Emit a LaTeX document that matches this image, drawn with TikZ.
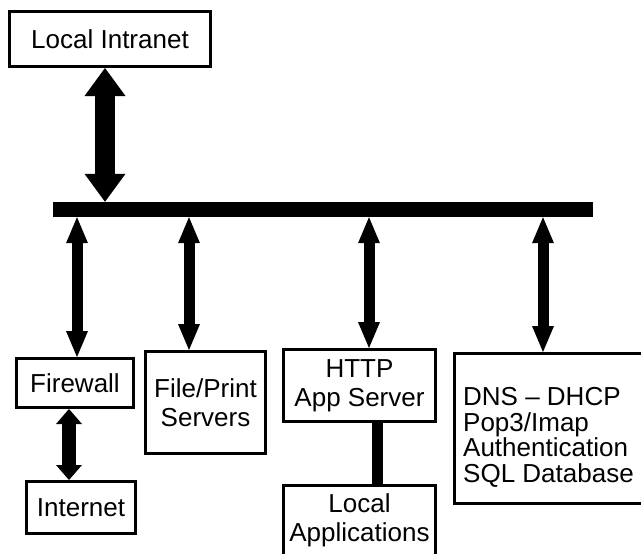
\documentclass[tikz,border=0pt]{standalone}
\usepackage{fontspec}
\setmainfont{Liberation Sans}
\usetikzlibrary{arrows.meta}

\tikzset{
  box/.style={draw=black, line width=3pt, fill=white, inner sep=0pt,
    align=center, font=\fontsize{26}{29}\selectfont},
  plain/.style={inner sep=0pt, align=left, font=\fontsize{26}{25.7}\selectfont},
  bigarrow/.style={line width=20pt,
    {Triangle[width=41pt,length=28pt,line width=0pt]}-{Triangle[width=41pt,length=28pt,line width=0pt]}},
  midarrow/.style={line width=14pt,
    {Triangle[width=26pt,length=15pt,line width=0pt]}-{Triangle[width=26pt,length=15pt,line width=0pt]}},
  linkarrow/.style={line width=11pt,
    {Triangle[width=22pt,length=26pt,line width=0pt]}-{Triangle[width=22pt,length=26pt,line width=0pt]}},
  link/.style={line width=11pt},
}

\begin{document}
\begin{tikzpicture}[x=1pt, y=-1pt]
  \useasboundingbox (0,0) rectangle (641,554);
  \begin{scope}
    \clip (0,0) rectangle (641,554);

    % network backbone
    \node[fill=black, inner sep=0pt, minimum width=540pt, minimum height=15pt] (bus) at (323,209.5) {};

    % boxes
    \node[box, minimum width=201pt, minimum height=55pt] (li) at (110,39) {Local Intranet};
    \node[box, minimum width=117pt, minimum height=49pt] (fw) at (75,383) {Firewall};
    \node[box, minimum width=109pt, minimum height=52pt] (inet) at (81,507.5) {Internet};
    \node[box, minimum width=120pt, minimum height=102pt] (fp) at (205.5,402.5) {File/Print\\Servers};
    \node[box, minimum width=152pt, minimum height=72pt] (http) at (359.5,385.5) {HTTP\\App Server};
    \node[box, minimum width=152pt, minimum height=70pt] (apps) at (359.5,520.5) {Local\\Applications};
    \node[box, minimum width=194pt, minimum height=150pt] (dns) at (551.5,428.5) {};
    \node[plain, anchor=north west] (dnstext) at (463,387)
      {DNS -- DHCP\\Pop3/Imap\\Authentication\\SQL Database};

    % connectors
    \draw[bigarrow] ([xshift=-5pt]li.south) -- ([xshift=-5pt]li.south |- bus.north);
    \draw[linkarrow] ([xshift=2pt]fw.north |- bus.south) -- ([xshift=2pt]fw.north);
    \draw[linkarrow] ([xshift=-16.5pt]fp.north |- bus.south) -- ([xshift=-16.5pt]fp.north);
    \draw[linkarrow] ([xshift=9.5pt]http.north |- bus.south) -- ([xshift=9.5pt]http.north);
    \draw[linkarrow] ([xshift=-8.5pt]dns.north |- bus.south) -- ([xshift=-8.5pt]dns.north);
    \draw[midarrow] ([xshift=-6pt]fw.south) -- ([xshift=-6pt]fw.south |- inet.north);
    \draw[link] ([xshift=17.5pt]http.south) -- ([xshift=17.5pt]http.south |- apps.north);
  \end{scope}
\end{tikzpicture}
\end{document}
